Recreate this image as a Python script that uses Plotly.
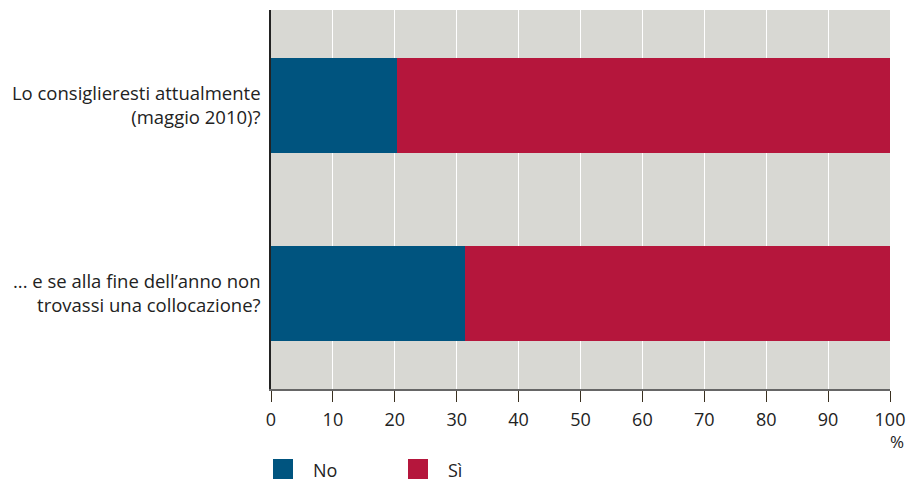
import plotly.graph_objects as go

categories = ["Lo consiglieresti attualmente<br>(maggio 2010)?",
              "... e se alla fine dell’anno non<br>trovassi una collocazione?"]
no_values = [20.3, 31.3]
si_values = [79.7, 68.7]
series_names = ["No", "Sì"]
colors = ["#00547f", "#b5163c"]
x_ticks = list(range(0, 101, 10))

FONT = "'Open Sans', Lato, sans-serif"
PW = 907 - 271 - 17
PH = 481 - 10 - 92

fig = go.Figure()
for name, vals, col in zip(series_names, [no_values, si_values], colors):
    fig.add_trace(go.Bar(y=categories, x=vals, name=name, orientation="h",
                         marker=dict(color=col, line=dict(width=0)),
                         width=0.505, showlegend=False))

fig.update_layout(
    barmode="stack",
    width=907, height=481,
    margin=dict(l=271, r=17, t=10, b=92, autoexpand=False),
    plot_bgcolor="#d8d8d3",
    paper_bgcolor="white",
    font=dict(family=FONT, size=17, color="#222222"),
    xaxis=dict(range=[0, 100], tickvals=x_ticks, ticks="outside", ticklen=11,
               tickcolor="#3a3020", tickwidth=1, showgrid=True, gridcolor="white",
               gridwidth=1.2, showline=True, linecolor="#666666", linewidth=1.5,
               zeroline=False, tickfont=dict(size=18), automargin=False,
               ticklabelstandoff=3),
    yaxis=dict(range=[1.508, -0.508], showgrid=False, showline=True,
               linecolor="#222222", linewidth=1.5, ticks="outside", ticklen=5,
               tickcolor="rgba(0,0,0,0)", zeroline=False, tickfont=dict(size=18.5),
               automargin=False),
)

fig.add_annotation(x=(897 - 271) / PW, y=-(441 - 389) / PH, xref="paper", yref="paper",
                   text="%", showarrow=False, xanchor="center", yanchor="middle",
                   font=dict(size=17, family=FONT, color="#222222"))

# legend drawn as shapes + labels
leg_x = [273, 408]
for i, (name, col) in enumerate(zip(series_names, colors)):
    fig.add_shape(type="rect", xref="paper", yref="paper",
                  x0=(leg_x[i] - 271) / PW,
                  x1=(leg_x[i] + 20 - 271) / PW,
                  y0=-(459 - 389) / PH, y1=-(479 - 389) / PH,
                  fillcolor=col, line=dict(width=0))
    fig.add_annotation(x=(leg_x[i] + 38 - 271) / PW,
                       y=-(470 - 389) / PH, xref="paper", yref="paper",
                       text=name, showarrow=False, xanchor="left", yanchor="middle",
                       font=dict(size=18, family=FONT, color="#222222"))

fig.write_html("out.html")
